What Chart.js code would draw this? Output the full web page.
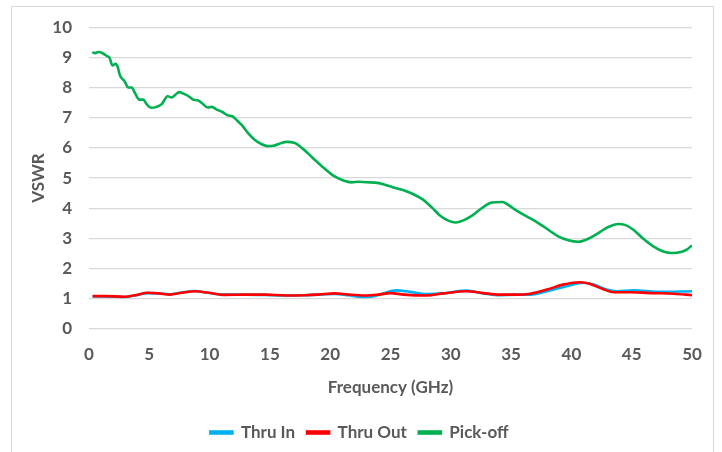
<!DOCTYPE html>
<html>
<head>
<meta charset="utf-8">
<script src="https://cdn.jsdelivr.net/npm/chart.js@4/dist/chart.umd.min.js"></script>
<style>
  html, body { margin: 0; padding: 0; background: #ffffff; overflow: hidden; }
  #wrap { position: relative; width: 722px; height: 452px; }
  #frame { position: absolute; left: 11px; top: 6px; width: 703px; height: 470px; border: 1px solid #d9d9d9; box-sizing: border-box; pointer-events: none; }
  canvas { position: absolute; left: 0; top: 0; }
</style>
</head>
<body>
<div id="wrap">
  <div id="frame"></div>
  <canvas id="c" width="722" height="452"></canvas>
</div>
<script>
// ---- Data ----
const seriesNames = ["Thru In", "Thru Out", "Pick-off"];

const thruInFreq = [0.3,1.3,3.0,3.8,4.9,5.8,6.7,7.7,8.8,9.9,11.3,12.9,14.6,16.3,17.9,19.0,20.4,21.5,22.6,23.5,24.4,25.5,26.6,28.0,29.4,31.3,32.7,33.8,35.5,36.6,38.2,39.6,41.0,41.8,42.9,43.8,45.2,47.1,50.0];
const thruInVswr = [1.08,1.08,1.06,1.11,1.19,1.18,1.15,1.21,1.26,1.20,1.14,1.14,1.13,1.11,1.12,1.14,1.16,1.12,1.06,1.08,1.18,1.28,1.23,1.16,1.18,1.27,1.18,1.12,1.14,1.14,1.28,1.42,1.53,1.48,1.31,1.25,1.28,1.23,1.25];

const thruOutFreq = [0.3,1.3,3.0,3.8,4.9,5.8,6.7,7.7,8.8,9.9,11.3,12.9,14.6,16.3,17.9,19.0,20.4,21.5,22.9,24.0,25.0,26.1,28.0,29.4,31.3,32.7,34.1,35.5,36.6,38.0,39.3,40.7,41.5,42.7,43.5,44.9,46.5,48.5,50.0];
const thruOutVswr = [1.09,1.09,1.07,1.12,1.20,1.18,1.14,1.20,1.25,1.20,1.13,1.14,1.14,1.11,1.12,1.14,1.18,1.14,1.11,1.14,1.19,1.14,1.11,1.18,1.25,1.19,1.14,1.14,1.17,1.31,1.47,1.55,1.50,1.31,1.22,1.22,1.19,1.17,1.12];

const pickOffFreq = [0.27,0.5,0.83,1.19,1.55,1.69,1.96,2.21,2.38,2.57,2.93,3.26,3.54,3.81,4.17,4.50,4.78,5.14,5.61,6.03,6.52,6.86,7.13,7.49,7.82,8.23,8.65,9.01,9.40,9.84,10.17,10.59,11.06,11.5,11.88,12.25,12.66,13.21,13.76,14.32,14.82,15.28,15.84,16.39,17.02,17.77,18.6,19.43,20.26,21.09,21.78,22.33,23.03,23.71,24.40,25.23,26.2,27.03,27.72,28.42,29.1,29.79,30.4,31.04,31.73,32.56,33.39,34.3,34.77,35.46,36.29,37.26,38.08,38.91,39.74,40.57,41.4,42.23,43.06,43.89,44.44,45.14,45.96,46.79,47.62,48.32,49.0,49.56,50.0];
const pickOffVswr = [9.17,9.14,9.18,9.12,9.03,9.0,8.73,8.79,8.68,8.40,8.22,8.0,8.0,7.82,7.60,7.60,7.45,7.33,7.36,7.45,7.71,7.67,7.75,7.85,7.80,7.72,7.60,7.58,7.47,7.34,7.36,7.27,7.19,7.08,7.05,6.92,6.76,6.48,6.26,6.12,6.06,6.07,6.15,6.20,6.17,5.96,5.65,5.35,5.08,4.92,4.86,4.88,4.86,4.85,4.80,4.69,4.58,4.44,4.28,4.03,3.76,3.59,3.53,3.60,3.75,4.0,4.19,4.21,4.11,3.92,3.73,3.51,3.29,3.07,2.94,2.89,2.99,3.18,3.38,3.48,3.45,3.29,2.99,2.74,2.57,2.52,2.54,2.63,2.77];

const xTitle = "Frequency (GHz)";
const yTitle = "VSWR";

function pts(xs, ys) { return xs.map((x, i) => ({ x: x, y: ys[i] })); }

const FONT = "Lato, 'Open Sans', sans-serif";
const GREY = "#595959";

new Chart(document.getElementById('c'), {
  type: 'line',
  data: {
    datasets: [
      { label: seriesNames[0], data: pts(thruInFreq, thruInVswr), borderColor: '#00b0f0', backgroundColor: '#00b0f0', order: 3 },
      { label: seriesNames[1], data: pts(thruOutFreq, thruOutVswr), borderColor: '#ff0000', backgroundColor: '#ff0000', order: 2 },
      { label: seriesNames[2], data: pts(pickOffFreq, pickOffVswr), borderColor: '#00b050', backgroundColor: '#00b050', order: 1 }
    ]
  },
  options: {
    responsive: false,
    animation: false,
    devicePixelRatio: 1,
    layout: { padding: { left: 27, right: 30, top: 22, bottom: 1 } },
    elements: {
      point: { radius: 0 },
      line: { borderWidth: 2.6, cubicInterpolationMode: 'monotone', fill: false }
    },
    plugins: {
      legend: {
        position: 'bottom',
        labels: {
          font: { family: FONT, size: 17, weight: 'bold' },
          color: GREY,
          boxWidth: 22,
          boxHeight: 2,
          padding: 12,
          sort: (a, b) => a.datasetIndex - b.datasetIndex
        }
      },
      tooltip: { enabled: false }
    },
    scales: {
      x: {
        type: 'linear',
        min: 0, max: 50,
        ticks: { stepSize: 5, color: GREY, font: { family: FONT, size: 17, weight: 'bold' }, padding: 15, maxRotation: 0 },
        grid: { display: false, drawTicks: false },
        border: { display: false },
        title: { display: true, text: xTitle, color: GREY, font: { family: FONT, size: 17, weight: 'bold' }, padding: { top: 0, bottom: 14 } },
        afterFit: function (scale) { scale.height = 83; }
      },
      y: {
        min: 0, max: 10,
        ticks: { stepSize: 1, color: GREY, font: { family: FONT, size: 17, weight: 'bold' }, padding: 17 },
        grid: { color: '#d9d9d9', lineWidth: 1.3, drawTicks: false },
        border: { display: false },
        title: { display: true, text: yTitle, color: GREY, font: { family: FONT, size: 17, weight: 'bold' }, padding: { top: 1, bottom: 0 } },
        afterFit: function (scale) { scale.width = 62; }
      }
    }
  }
});
</script>
</body>
</html>
